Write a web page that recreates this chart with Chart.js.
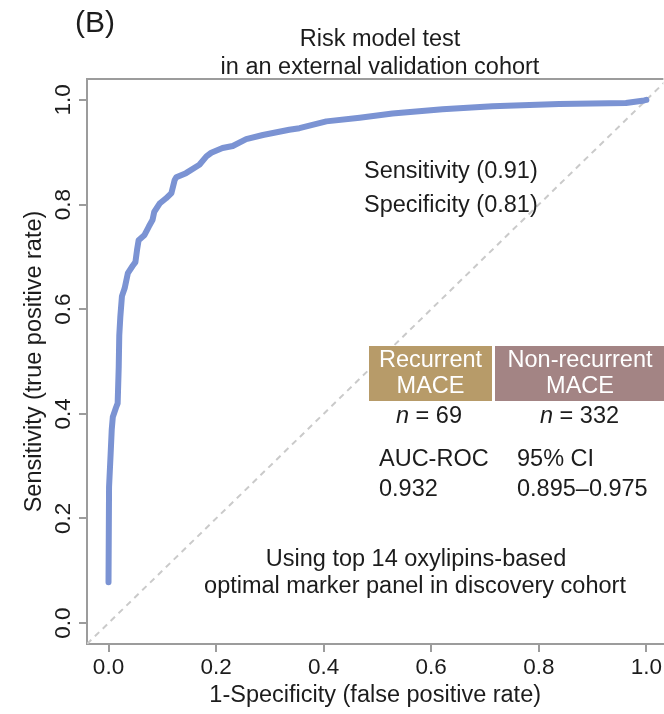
<!DOCTYPE html>
<html>
<head>
<meta charset="utf-8">
<script src="https://cdn.jsdelivr.net/npm/chart.js@4.4.1/dist/chart.umd.min.js"></script>
<style>
  html, body { margin: 0; padding: 0; background: #fff; }
  #wrap { width: 664px; height: 714px; position: relative; }
</style>
</head>
<body>
<div id="wrap"><canvas id="roc"></canvas></div>
<script>
// ROC curve (1-specificity vs sensitivity)
const fpr = [0.000, 0.001, 0.004, 0.006, 0.008, 0.014, 0.017, 0.019, 0.020, 0.022, 0.025, 0.030,
             0.036, 0.045, 0.050, 0.053, 0.056, 0.067, 0.075, 0.082, 0.085, 0.095, 0.107, 0.117,
             0.123, 0.126, 0.144, 0.169, 0.182, 0.191, 0.212, 0.231, 0.256, 0.287, 0.336, 0.355,
             0.405, 0.467, 0.528, 0.621, 0.714, 0.838, 0.962, 0.996, 1.000];
const tpr = [0.078, 0.260, 0.325, 0.370, 0.394, 0.412, 0.420, 0.490, 0.550, 0.586, 0.625, 0.640,
             0.669, 0.683, 0.690, 0.713, 0.732, 0.742, 0.758, 0.771, 0.786, 0.802, 0.812, 0.822,
             0.847, 0.852, 0.860, 0.876, 0.892, 0.899, 0.908, 0.912, 0.925, 0.933, 0.943, 0.946,
             0.959, 0.966, 0.974, 0.982, 0.988, 0.992, 0.994, 0.999, 1.000];
const chanceLine = [-0.04, 1.04];
const xTicks = [0, 0.2, 0.4, 0.6, 0.8, 1.0];
const yTicks = [0, 0.2, 0.4, 0.6, 0.8, 1.0];

const groupNames = [['Recurrent', 'MACE'], ['Non-recurrent', 'MACE']];
const groupN = [69, 332];
const groupColors = ['#b79b69', '#a38484'];
const sensitivity = '0.91';
const specificity = '0.81';
const auc = '0.932';
const ci95 = '0.895–0.975';

const FONT = '"Liberation Sans", Arial, Helvetica, sans-serif';
const AXIS_GRAY = '#9c9c9c';
const TEXT = '#1c1c1c';
const FS = 23.5;

function put(ctx, s, x, y, size, align, color, style) {
    ctx.font = (style || '') + ' ' + size + 'px ' + FONT;
    ctx.textAlign = align;
    ctx.textBaseline = 'alphabetic';
    ctx.fillStyle = color;
    ctx.fillText(s, x, y);
}

// n = 69 with italic n, centred on cx
function putN(ctx, n, cx, y) {
    ctx.font = 'italic ' + FS + 'px ' + FONT;
    const w1 = ctx.measureText('n').width;
    ctx.font = FS + 'px ' + FONT;
    const rest = ' = ' + n;
    const w2 = ctx.measureText(rest).width;
    const x0 = cx - (w1 + w2) / 2;
    put(ctx, 'n', x0, y, FS, 'left', TEXT, 'italic');
    put(ctx, rest, x0 + w1, y, FS, 'left', TEXT);
}

const annotations = {
    id: 'annotations',
    afterDraw(chart) {
        const ctx = chart.ctx;
        const area = chart.chartArea;
        ctx.save();

        // top side of the box
        ctx.strokeStyle = AXIS_GRAY;
        ctx.lineWidth = 2;
        ctx.beginPath();
        ctx.moveTo(area.left - 1, area.top);
        ctx.lineTo(area.right, area.top);
        ctx.stroke();

        put(ctx, '(B)', 75, 32, 30, 'left', TEXT);
        put(ctx, 'Risk model test', 380, 46, FS, 'center', TEXT);
        put(ctx, 'in an external validation cohort', 380, 74, FS, 'center', TEXT);

        put(ctx, 'Sensitivity (' + sensitivity + ')', 364, 178, FS, 'left', TEXT);
        put(ctx, 'Specificity (' + specificity + ')', 364, 212, FS, 'left', TEXT);

        // group boxes
        ctx.fillStyle = groupColors[0];
        ctx.fillRect(369, 346, 123, 55);
        ctx.fillStyle = groupColors[1];
        ctx.fillRect(495, 346, 171, 55);
        put(ctx, groupNames[0][0], 430.5, 367, FS, 'center', '#ffffff');
        put(ctx, groupNames[0][1], 430.5, 393, FS, 'center', '#ffffff');
        put(ctx, groupNames[1][0], 580, 367, FS, 'center', '#ffffff');
        put(ctx, groupNames[1][1], 580, 393, FS, 'center', '#ffffff');
        putN(ctx, groupN[0], 429, 423);
        putN(ctx, groupN[1], 579.5, 423);

        put(ctx, 'AUC-ROC', 379, 466, FS, 'left', TEXT);
        put(ctx, '95% CI', 517, 466, FS, 'left', TEXT);
        put(ctx, auc, 379, 496, FS, 'left', TEXT);
        put(ctx, ci95, 517, 496, FS, 'left', TEXT);

        put(ctx, 'Using top 14 oxylipins-based', 416, 565.5, FS, 'center', TEXT);
        put(ctx, 'optimal marker panel in discovery cohort', 415, 593, FS, 'center', TEXT);
        ctx.restore();
    }
};

const axisGrid = { drawOnChartArea: false, drawTicks: true, tickLength: 8, color: AXIS_GRAY, lineWidth: 2 };
const axisBorder = { display: true, color: AXIS_GRAY, width: 2 };

new Chart(document.getElementById('roc'), {
    type: 'line',
    data: {
        datasets: [
            {
                data: chanceLine.map(v => ({ x: v, y: v })),
                borderColor: '#cacaca',
                borderWidth: 2,
                borderDash: [6, 5],
                pointRadius: 0,
                order: 2
            },
            {
                data: fpr.map((v, i) => ({ x: v, y: tpr[i] })),
                borderColor: '#7b93d3',
                borderWidth: 6,
                borderCapStyle: 'round',
                borderJoinStyle: 'round',
                pointRadius: 0,
                tension: 0,
                order: 1
            }
        ]
    },
    options: {
        responsive: true,
        maintainAspectRatio: false,
        animation: false,
        layout: { padding: { top: 79, left: 0, right: 0, bottom: 0 } },
        plugins: { legend: { display: false }, tooltip: { enabled: false } },
        scales: {
            x: {
                type: 'linear',
                min: -0.04,
                max: 1.0316,
                afterBuildTicks: s => { s.ticks = xTicks.map(v => ({ value: v })); },
                afterFit: s => { s.height = 70; },
                ticks: {
                    color: TEXT, font: { family: FONT, size: 22.5 }, padding: 2,
                    maxRotation: 0, autoSkip: false,
                    callback: v => v.toFixed(1)
                },
                grid: axisGrid,
                border: axisBorder,
                title: {
                    display: true, text: '1-Specificity (false positive rate)', color: TEXT,
                    font: { family: FONT, size: FS }, padding: { top: 0, bottom: 4 }
                }
            },
            y: {
                type: 'linear',
                min: -0.04,
                max: 1.04,
                afterBuildTicks: s => { s.ticks = yTicks.map(v => ({ value: v })); },
                afterFit: s => { s.width = 87; },
                ticks: {
                    color: TEXT, font: { family: FONT, size: 22.5 }, padding: 0,
                    minRotation: 90, maxRotation: 90, crossAlign: 'center', autoSkip: false,
                    callback: v => v.toFixed(1)
                },
                grid: axisGrid,
                border: axisBorder,
                title: {
                    display: true, text: 'Sensitivity (true positive rate)', color: TEXT,
                    font: { family: FONT, size: FS }, padding: { top: 20, bottom: 0 }
                }
            }
        }
    },
    plugins: [annotations]
});
</script>
</body>
</html>
